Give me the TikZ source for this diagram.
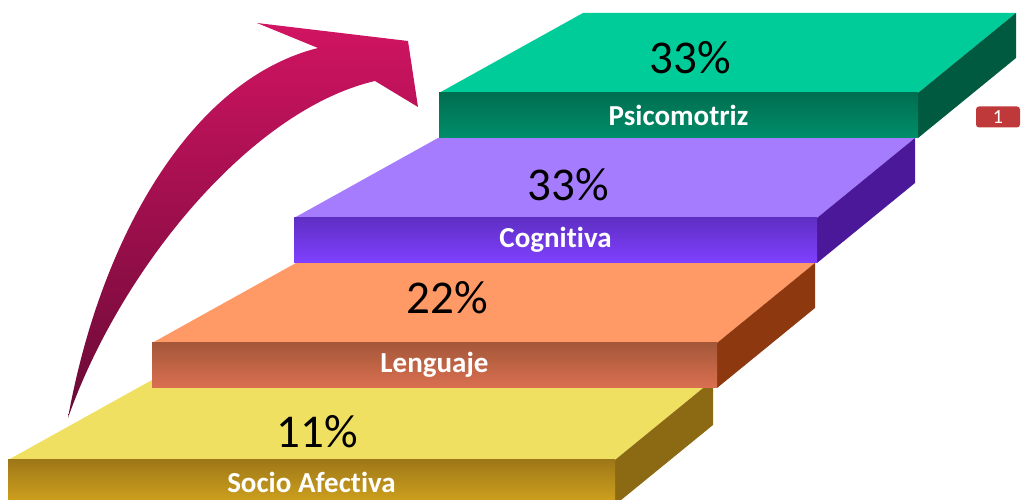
\documentclass[tikz,border=0pt]{standalone}
\usepackage{fontspec}
\setmainfont{Carlito}[Ligatures=NoCommon]
\definecolor{arrowtop}{HTML}{D11462}
\definecolor{arrowbot}{HTML}{680A36}
\definecolor{yelTop}{HTML}{F0E062}
\definecolor{yelFrontA}{HTML}{9E7818}
\definecolor{yelFrontB}{HTML}{D2A41E}
\definecolor{yelSide}{HTML}{8C6A14}
\definecolor{oraTop}{HTML}{FF9966}
\definecolor{oraFrontA}{HTML}{A5573A}
\definecolor{oraFrontB}{HTML}{DA7050}
\definecolor{oraSide}{HTML}{8E3810}
\definecolor{purTop}{HTML}{A67CFF}
\definecolor{purFrontA}{HTML}{5F2FC4}
\definecolor{purFrontB}{HTML}{8040FF}
\definecolor{purSide}{HTML}{4A1898}
\definecolor{grnTop}{HTML}{00CC99}
\definecolor{grnFrontA}{HTML}{006E50}
\definecolor{grnFrontB}{HTML}{008E6A}
\definecolor{grnSide}{HTML}{005A40}
\definecolor{badgeRed}{HTML}{C0393A}
\tikzset{
  pct/.style={font=\fontsize{47}{52}\selectfont, text=black},
  lab/.style={font=\fontsize{29}{33}\selectfont\bfseries, text=white},
  badge/.style={fill=badgeRed, rounded corners=3pt, minimum width=44, minimum height=21, inner sep=0pt, text=white, font=\fontsize{20}{22}\selectfont}
}
\begin{document}
\begin{tikzpicture}[x=1pt, y=1pt, line join=round]
 \useasboundingbox (0,0) rectangle (1021,500);
 % curved arrow
 \shade[top color=arrowtop, bottom color=arrowbot] (68,82) .. controls (100,260) and (190,420) .. (318,452)
   -- (257,477) -- (408,459) -- (418,393) -- (375,419) .. controls (250,390) and (120,230) .. (68,82) -- cycle;
 % steps, from the bottom up
 \foreach \n/\fl/\fr/\ft/\ctop/\cfa/\cfb/\cside/\pct/\px/\py/\lab in {
   1/8/615/40/yelTop/yelFrontA/yelFrontB/yelSide/11\%/317/68/Socio Afectiva,
   2/152/717/157/oraTop/oraFrontA/oraFrontB/oraSide/22\%/447/202/Lenguaje,
   3/294/817/282/purTop/purFrontA/purFrontB/purSide/33\%/568/315/Cognitiva,
   4/439/918/407/grnTop/grnFrontA/grnFrontB/grnSide/33\%/690/442/Psicomotriz}
 {
  \fill[\ctop] (\fl,\ft) -- (\fl+144,\ft+80) -- (\fr+98,\ft+80) -- (\fr,\ft) -- cycle;
  \fill[\cside] (\fr,\ft) -- (\fr+98,\ft+80) -- (\fr+98,\ft+35) -- (\fr,\ft-45) -- cycle;
  \shade[top color=\cfa, bottom color=\cfb] (\fl,\ft-45) rectangle (\fr,\ft);
  \node[pct] (pct\n) at (\px,\py) {\pct};
  \node[lab] (lab\n) at ({(\fl+\fr)/2},\ft-22) {\lab};
 }
 \node[badge] (badge) at (998,383) {1};
\end{tikzpicture}
\end{document}
